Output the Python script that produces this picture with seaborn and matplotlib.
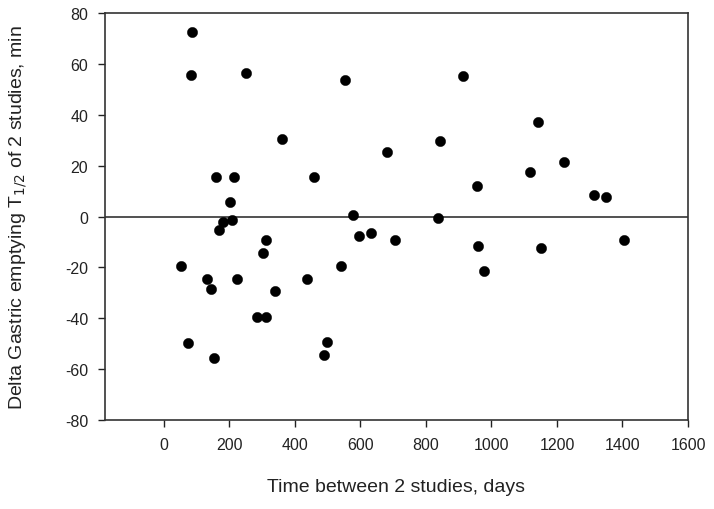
import matplotlib
matplotlib.use("Agg")
import matplotlib.pyplot as plt
import seaborn as sns
import pandas as pd

days = [86, 82, 250, 554, 362, 158, 214, 458, 201, 180, 169, 208, 577, 597, 313, 304,
        53, 132, 143, 222, 339, 284, 313, 436, 541, 74, 153, 488, 497,
        914, 1143, 844, 682, 1221, 1117, 957, 1313, 1349, 837, 633, 706, 960, 1150, 1404, 977]
delta = [72.6, 55.5, 56.5, 53.5, 30.6, 15.6, 15.6, 15.6, 5.6, -2.3, -5.4, -1.4, 0.6, -7.5, -9.4, -14.3,
         -19.5, -24.4, -28.5, -24.4, -29.4, -39.6, -39.6, -24.4, -19.5, -49.6, -55.6, -54.6, -49.5,
         55.4, 37.0, 29.5, 25.5, 21.5, 17.6, 12.1, 8.6, 7.7, -0.5, -6.6, -9.4, -11.5, -12.4, -9.4, -21.4]

xticks = [0, 200, 400, 600, 800, 1000, 1200, 1400, 1600]
yticks = [-80, -60, -40, -20, 0, 20, 40, 60, 80]

df = pd.DataFrame({"days": days, "delta": delta})

sns.set_theme(style="ticks")
plt.rcParams['font.family'] = ['Liberation Sans', 'DejaVu Sans']
plt.rcParams['axes.unicode_minus'] = False

fig = plt.figure(figsize=(7.14, 5.10), dpi=100)
ax = fig.add_axes([0.147, 0.1745, 0.8166, 0.798])
sns.scatterplot(data=df, x="days", y="delta", ax=ax, color="black", s=55,
                edgecolor="black", linewidth=0.3, zorder=3)
ax.axhline(0, color="#333333", linewidth=1.2, zorder=2)
ax.set_xlim(-180, 1600)
ax.set_ylim(-80, 80)
ax.set_xticks(xticks)
ax.set_yticks(yticks)
ax.tick_params(direction="out", length=5, width=1, labelsize=11.5, colors="#222222", pad=7)
for sp in ax.spines.values():
    sp.set_visible(True)
    sp.set_color("#333333")
    sp.set_linewidth(1.2)
ax.set_xlabel("Time between 2 studies, days", fontsize=14, labelpad=19, color="#222222")
ax.set_ylabel("Delta Gastric emptying T$_{1/2}$ of 2 studies, min", fontsize=14,
              labelpad=26, color="#222222")
fig.savefig("out.png", dpi=100)
